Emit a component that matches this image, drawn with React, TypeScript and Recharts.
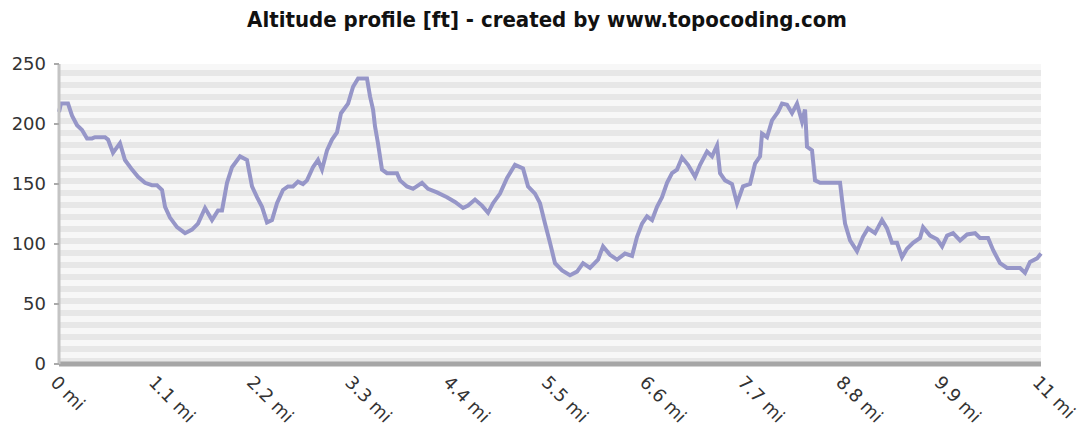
import React from 'react';
import { LineChart, Line, XAxis, YAxis, CartesianGrid } from 'recharts';

// distance along the track, miles
const miles = [
  0, 0.022, 0.101, 0.146, 0.202, 0.258, 0.314, 0.37, 0.403, 0.515,
  0.549, 0.605, 0.683, 0.739, 0.818, 0.885, 0.963, 1.042, 1.098, 1.154,
  1.188, 1.243, 1.322, 1.412, 1.49, 1.557, 1.636, 1.714, 1.781, 1.826,
  1.882, 1.938, 2.028, 2.106, 2.162, 2.218, 2.274, 2.33, 2.386, 2.442,
  2.509, 2.565, 2.621, 2.677, 2.733, 2.778, 2.845, 2.901, 2.946, 3.002,
  3.058, 3.114, 3.159, 3.238, 3.294, 3.35, 3.45, 3.484, 3.518, 3.54,
  3.573, 3.618, 3.674, 3.786, 3.82, 3.898, 3.966, 4.066, 4.134, 4.234,
  4.346, 4.436, 4.526, 4.582, 4.66, 4.738, 4.806, 4.862, 4.94, 5.019,
  5.108, 5.198, 5.254, 5.332, 5.388, 5.444, 5.5, 5.556, 5.635, 5.724,
  5.803, 5.87, 5.948, 6.038, 6.094, 6.172, 6.251, 6.34, 6.419, 6.475,
  6.531, 6.587, 6.643, 6.699, 6.755, 6.811, 6.867, 6.923, 6.979, 7.046,
  7.125, 7.181, 7.259, 7.315, 7.371, 7.405, 7.461, 7.539, 7.595, 7.662,
  7.741, 7.797, 7.853, 7.875, 7.931, 7.987, 8.054, 8.099, 8.155, 8.211,
  8.267, 8.323, 8.357, 8.379, 8.435, 8.469, 8.525, 8.637, 8.749, 8.771,
  8.805, 8.861, 8.939, 9.006, 9.062, 9.141, 9.219, 9.275, 9.331, 9.387,
  9.443, 9.499, 9.567, 9.645, 9.679, 9.757, 9.836, 9.892, 9.948, 10.015,
  10.093, 10.172, 10.262, 10.317, 10.407, 10.463, 10.541, 10.62, 10.765, 10.821,
  10.877, 10.956, 11,
];

// altitude, feet
const altitude = [
  210, 217, 217, 207, 199, 195, 188, 188, 189, 189,
  187, 176, 184, 170, 162, 156, 151, 149, 149, 145,
  131, 122, 114, 109, 112, 117, 130, 120, 128, 128,
  151, 164, 173, 170, 148, 139, 131, 118, 120, 134,
  145, 148, 148, 152, 150, 153, 164, 170, 162, 178,
  187, 193, 209, 217, 231, 238, 238, 223, 212, 198,
  184, 162, 159, 159, 153, 148, 146, 151, 146, 143,
  139, 135, 130, 132, 137, 132, 126, 134, 142, 155,
  166, 163, 148, 142, 134, 117, 101, 84, 78, 74,
  77, 84, 80, 87, 98, 91, 87, 92, 90, 106,
  117, 123, 120, 131, 139, 151, 159, 162, 172, 166,
  156, 166, 177, 173, 182, 159, 153, 150, 134, 148,
  150, 167, 173, 192, 189, 203, 210, 217, 216, 209,
  217, 202, 212, 181, 178, 153, 151, 151, 151, 137,
  117, 103, 94, 106, 113, 109, 120, 113, 101, 101,
  89, 96, 101, 105, 114, 107, 104, 98, 107, 109,
  103, 108, 109, 105, 105, 95, 84, 80, 80, 76,
  85, 88, 92,
];

const xTicks = [0, 1.1, 2.2, 3.3, 4.4, 5.5, 6.6, 7.7, 8.8, 9.9, 11];
const xLabels = ['0', '1.1', '2.2', '3.3', '4.4', '5.5', '6.6', '7.7', '8.8', '9.9', '11'];
const yTicks = [0, 50, 100, 150, 200, 250];
// background bands every 5 ft
const stripes = Array.from({ length: 51 }, (_, i) => i * 5);

const chartData = miles.map((mi, i) => ({ mi, alt: altitude[i] }));

const FONT = '"DejaVu Sans", sans-serif';

function MileTick({ x, y, payload }: any) {
  const idx = xTicks.indexOf(payload.value);
  const label = idx >= 0 ? xLabels[idx] : String(payload.value);
  return (
    <g transform={`translate(${x},${y + 2})`}>
      <text
        transform="rotate(45)"
        textAnchor="start"
        dy="0.75em"
        fontSize={18}
        fontFamily={FONT}
        fill="#333"
      >
        {label} mi
      </text>
    </g>
  );
}

export default function App() {
  return (
    <div style={{ position: 'absolute', left: 0, top: 0, width: 1088, height: 430, background: '#fff' }}>
      <div
        style={{
          position: 'absolute',
          left: 0,
          top: 7,
          width: 1094,
          textAlign: 'center',
          fontFamily: '"DejaVu Sans Condensed", "DejaVu Sans", sans-serif',
          fontWeight: 'bold',
          fontSize: 22,
          color: '#111',
        }}
      >
        Altitude profile [ft] - created by www.topocoding.com
      </div>
      <LineChart
        width={1088}
        height={430}
        data={chartData}
        margin={{ top: 64, right: 47, bottom: 0, left: 0 }}
      >
        <CartesianGrid
          vertical={false}
          horizontalValues={stripes}
          stroke="none"
          horizontalFill={['#f7f7f7', '#e7e7e7']}
        />
        <XAxis
          dataKey="mi"
          type="number"
          domain={[0, 11]}
          ticks={xTicks}
          interval={0}
          height={66}
          axisLine={{ stroke: '#a6a6a6', strokeWidth: 5 }}
          tickLine={false}
          tick={<MileTick />}
        />
        <YAxis
          domain={[0, 250]}
          ticks={yTicks}
          interval={0}
          width={59}
          axisLine={{ stroke: '#c4c4c4', strokeWidth: 3 }}
          tickLine={{ stroke: '#aaa', strokeWidth: 2 }}
          tickSize={5}
          tickMargin={8}
          tick={{ fontSize: 18, fontFamily: FONT, fill: '#333' }}
        />
        <Line
          dataKey="alt"
          type="linear"
          stroke="#9696c8"
          strokeWidth={4}
          strokeLinejoin="miter"
          dot={false}
          isAnimationActive={false}
        />
      </LineChart>
    </div>
  );
}
